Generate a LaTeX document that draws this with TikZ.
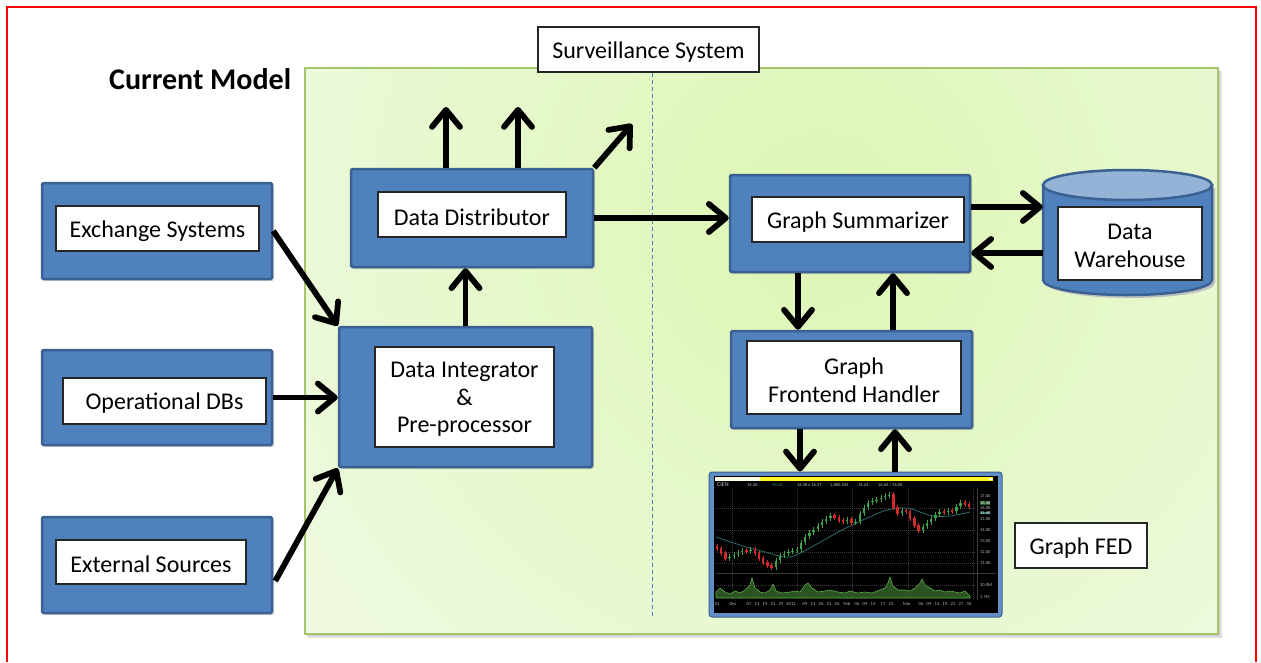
\documentclass[tikz,border=0pt]{standalone}
\usepackage{fontspec}
\setmainfont{Carlito}
\usetikzlibrary{arrows.meta,shadows,calc}
\definecolor{boxblue}{HTML}{4F81BD}
\definecolor{boxedge}{HTML}{3A6191}
\definecolor{topblue}{HTML}{95B3D7}
\definecolor{panelline}{HTML}{A6C46E}
\definecolor{panelin}{HTML}{DDF6B4}
\definecolor{panelout}{HTML}{F2FAE8}
\definecolor{sepline}{HTML}{4F81BD}
\definecolor{candleup}{HTML}{3FA34D}
\definecolor{candledn}{HTML}{D02A2A}
\definecolor{volfill}{HTML}{2C5422}
\definecolor{voledge}{HTML}{5DB04C}
\definecolor{avgline}{HTML}{2C6C6A}
\definecolor{chartgrid}{HTML}{3A3A3A}
\begin{document}
\begin{tikzpicture}[x=1pt,y=-1pt,
  outerbox/.style={draw=boxedge, line width=2.5pt, fill=boxblue, rounded corners=1.5pt,
    drop shadow={shadow xshift=2pt, shadow yshift=-2pt, opacity=0.3}},
  innerbox/.style={draw=black!85, line width=1.1pt, fill=white, align=center,
    font=\fontsize{24}{27.5}\selectfont, inner sep=0pt},
  labelbox/.style={draw=black!85, line width=1.1pt, fill=white, align=center,
    font=\fontsize{24}{27.5}\selectfont, inner sep=0pt},
  nudge/.style={yshift=-2.5pt},
  arr/.style={line width=5.8pt, -{Straight Barb[length=17pt,width=28pt,round]}},
  chartlbl/.style={text=white!75!black, font=\fontsize{4.5}{5}\selectfont, inner sep=0pt}
]
\useasboundingbox (0,0) rectangle (1261,662);
\fill[white] (0,0) rectangle (1261,662);

% page frame
\draw[red, line width=1.3pt] (7,662) -- (7,7) -- (1256,7) -- (1256,662);

% heading
\node[anchor=west, font=\fontsize{30}{32}\selectfont\bfseries, inner sep=0pt] (title) at (109,79) {Current Model};

% system panel with soft shadow and green shading
\fill[black!12] (308,71) rectangle (1222,638);
\fill[black!20] (307,70) rectangle (1220,636);
\begin{scope}
  \clip (305,68) rectangle (1218,634);
  \shade[inner color=panelin, outer color=panelout] (820,220) circle (760);
\end{scope}
\draw[panelline, line width=1.2pt] (305,68) rectangle (1218,634);

% system title and divider
\node[labelbox, minimum width=221, minimum height=45] (surv) at (648.5,49.5) {};
\node[nudge, font=\fontsize{24}{27.5}\selectfont, inner sep=0pt] (surv-t) at (surv) {Surveillance System};
\coordinate (divx) at (652,0);
\coordinate (divend) at (652,618);
\draw[sepline, line width=0.9pt, dash pattern=on 4pt off 3pt] (surv.south -| divx) -- (divend);

% source systems
\node[outerbox, minimum width=230, minimum height=96] (exch) at (157,231) {};
\node[innerbox, minimum width=203, minimum height=45] (exch-b) at (157.5,228.5) {};
\node[innerbox, draw=none, fill=none, nudge] (exch-t) at (exch-b) {Exchange Systems};
\node[outerbox, minimum width=230, minimum height=95] (opdb) at (157,397.5) {};
\node[innerbox, minimum width=203, minimum height=46] (opdb-b) at (164.5,401) {};
\node[innerbox, draw=none, fill=none, nudge] (opdb-t) at (opdb-b) {Operational DBs};
\node[outerbox, minimum width=230, minimum height=96] (ext) at (157,565) {};
\node[innerbox, minimum width=190, minimum height=44] (ext-b) at (151,562) {};
\node[innerbox, draw=none, fill=none, nudge] (ext-t) at (ext-b) {External Sources};

% integration and distribution
\node[outerbox, minimum width=253, minimum height=140] (integ) at (465.5,397) {};
\node[innerbox, minimum width=179, minimum height=100] (integ-b) at (464.5,397) {};
\node[innerbox, draw=none, fill=none, nudge] (integ-t) at (integ-b) {Data Integrator\\\&\\Pre-processor};
\node[outerbox, minimum width=242, minimum height=98] (dist) at (472,218) {};
\node[innerbox, minimum width=188, minimum height=45] (dist-b) at (472,214.5) {};
\node[innerbox, draw=none, fill=none, nudge] (dist-t) at (dist-b) {Data Distributor};

% graph side
\node[outerbox, minimum width=240, minimum height=97] (summ) at (850,223.5) {};
\node[innerbox, minimum width=212, minimum height=45] (summ-b) at (858,219.5) {};
\node[innerbox, draw=none, fill=none, nudge] (summ-t) at (summ-b) {Graph Summarizer};
\node[outerbox, minimum width=241, minimum height=97] (front) at (851.5,379.5) {};
\node[innerbox, minimum width=214, minimum height=73] (front-b) at (854,377.5) {};
\node[innerbox, draw=none, fill=none, nudge] (front-t) at (front-b) {Graph\\Frontend Handler};

% data warehouse cylinder
\node[minimum width=169, minimum height=110, inner sep=0pt] (cyl) at (1127.5,232.5) {};
\fill[black!25] (1046,188) -- (1046,283) arc (180:0:84.5 and 15) -- (1215,188) -- cycle;
\draw[boxedge, line width=2.5pt, fill=boxblue] (1043,185) -- (1043,280) arc (180:0:84.5 and 15) -- (1212,185) -- cycle;
\draw[boxedge, line width=2.5pt, fill=topblue] (1127.5,185) ellipse (84.5 and 15);
\node[innerbox, minimum width=144, minimum height=73] (wh-b) at (1130,243.5) {};
\node[innerbox, draw=none, fill=none, nudge] (wh) at (wh-b) {Data\\Warehouse};

% market chart screenshot
\node[draw=boxedge, line width=1pt, fill=boxblue!90!white, rounded corners=3pt,
  minimum width=293, minimum height=145, inner sep=0pt] (chart) at (855.5,544.5) {};
\fill[black] (714,476) rectangle (998,613);
\fill[white!90!yellow] (715,477) rectangle (760,480.5);
\fill[yellow!85!white] (760,477) rectangle (993,480.5);
\fill[white] (989,477.5) rectangle (992,480);
% grid
\foreach \gx in {732,797,852,908,973}
  \draw[chartgrid, line width=0.4pt, dash pattern=on 1pt off 1pt] (\gx,488) -- (\gx,600);
\foreach \gy in {508,530,552,563,585}
  \draw[chartgrid, line width=0.4pt, dash pattern=on 1pt off 1pt] (716,\gy) -- (976,\gy);
\draw[chartgrid, line width=0.5pt] (716,573) -- (996,573);
\draw[chartgrid, line width=0.5pt] (977,488) -- (977,600);
% header row
\node[chartlbl, anchor=west] (tick) at (717,485) {\fontsize{6}{6}\selectfont CIEN};
\node[chartlbl, anchor=west] (hd1) at (747,485) {16.36};
\node[chartlbl, anchor=west, text=candleup] (hd2) at (772,485) {+0.12};
\node[chartlbl, anchor=west] (hd3) at (797,485) {16.36 x 16.37};
\node[chartlbl, anchor=west] (hd4) at (830,485) {1,880,502};
\node[chartlbl, anchor=west] (hd5) at (858,485) {16.24};
\node[chartlbl, anchor=west] (hd6) at (878,485) {16.63 / 16.00};
% price axis
\foreach \pv/\py in {17.00/496,16.00/508,15.00/519,14.00/530,13.00/541,12.00/552,11.00/563,10.0M/585,1.7M/597}
  \node[chartlbl, anchor=west] (ax-\py) at (980,\py) {\pv};
\node[chartlbl, anchor=west, fill=candleup!60!black, text=white] (axg) at (980,503) {16.36};
\node[chartlbl, anchor=west, fill=avgline, text=white] (axt) at (980,513) {15.40};
% moving average
\draw[avgline, line width=0.8pt] plot[smooth] coordinates {(716,537) (740,545) (765,552) (790,557) (815,545) (840,531) (865,519) (887,510) (907,508) (920,512) (933,516) (950,516) (970,512)};
% candles
\foreach \cy [count=\i from 0, remember=\cy as \py (initially 546)] in
  {548,553,558,556,554,552,550,551,549,553,558,562,565,567,560,555,553,551,550,549,
   542,536,532,529,525,521,518,515,517,520,521,519,522,521,513,507,502,500,499,497,
   495,494,507,513,510,511,518,525,530,526,522,518,514,511,512,510,511,506,502,504,506}
{
  \pgfmathsetmacro\cx{717+4.2*\i}
  \pgfmathsetmacro\wt{min(\cy,\py)-2.5}
  \pgfmathsetmacro\wb{max(\cy,\py)+2.5}
  \ifdim \cy pt<\py pt \def\cc{candleup}\else\def\cc{candledn}\fi
  \draw[\cc, line width=0.5pt] (\cx,\wt) -- (\cx,\wb);
  \fill[\cc] (\cx-1.2,\py) rectangle (\cx+1.2,\cy+0.6);
}
% volume
\filldraw[fill=volfill, draw=voledge, line width=0.6pt] plot coordinates {(716,598) (716,592) (720,588) (725,592) (730,594) (735,591) (740,593) (745,590) (750,585) (752,578) (755,588) (760,592) (765,593) (770,590) (773,584) (776,591) (782,593) (790,592) (795,591) (800,592) (805,585) (808,583) (812,588) (818,592) (825,591) (830,590) (838,592) (845,593) (850,591) (858,593) (865,592) (872,593) (880,590) (885,588) (888,583) (890,577) (893,586) (898,590) (905,590) (910,591) (915,588) (920,583) (922,579) (925,585) (930,588) (935,591) (940,590) (945,592) (950,591) (955,592) (960,593) (965,591) (970,596) (970,598)} -- cycle;
% date axis
\foreach \dv/\dx in {31/717,Dec/733,07/749,13/757,19/765,23/773,29/781,2012/791,09/805,13/813,20/821,23/829,26/837,Feb/847,06/857,09/865,14/873,17/883,23/891,Mar/907,06/921,09/929,14/937,19/945,22/953,27/961,30/969}
  \node[chartlbl] (dt-\dx) at (\dx,604) {\dv};

% connectors into the integrator
\draw[arr] (exch.east) -- (integ.north west);
\draw[arr] (opdb.east) -- (opdb.east -| integ.west);
\coordinate (extout) at ($(ext.east)+(2,16)$);
\draw[arr] (extout) -- (integ.south west);
\draw[arr] (integ.north) -- (integ.north |- dist.south);

% outputs of the distributor
\coordinate (up1) at (446,107);
\coordinate (up2) at (518,107);
\coordinate (up3) at (632,124);
\draw[arr] (up1 |- dist.north) -- (up1);
\draw[arr] (up2 |- dist.north) -- (up2);
\draw[arr] (dist.north east) -- (up3);
\draw[arr] (dist.east) -- (dist.east -| summ.west);

% summarizer and warehouse
\coordinate (s1) at ($(summ.east)+(0,-16.5)$);
\coordinate (s2) at ($(summ.east)+(0,29.5)$);
\draw[arr] (s1) -- (s1 -| cyl.west);
\draw[arr] (s2 -| cyl.west) -- (s2);

% summarizer and frontend handler
\coordinate (v1) at (798,0);
\coordinate (v2) at (893,0);
\draw[arr] (summ.south -| v1) -- (front.north -| v1);
\draw[arr] (front.north -| v2) -- (summ.south -| v2);

% frontend handler and chart
\coordinate (v3) at (800,0);
\coordinate (v4) at (895,0);
\draw[arr] (front.south -| v3) -- (chart.north -| v3);
\draw[arr] (chart.north -| v4) -- (front.south -| v4);

% chart label
\node[labelbox, minimum width=132, minimum height=45] (fed-b) at (1081,545.5) {};
\node[nudge, font=\fontsize{24}{27.5}\selectfont, inner sep=0pt] (fed) at (fed-b) {Graph FED};
\end{tikzpicture}
\end{document}
